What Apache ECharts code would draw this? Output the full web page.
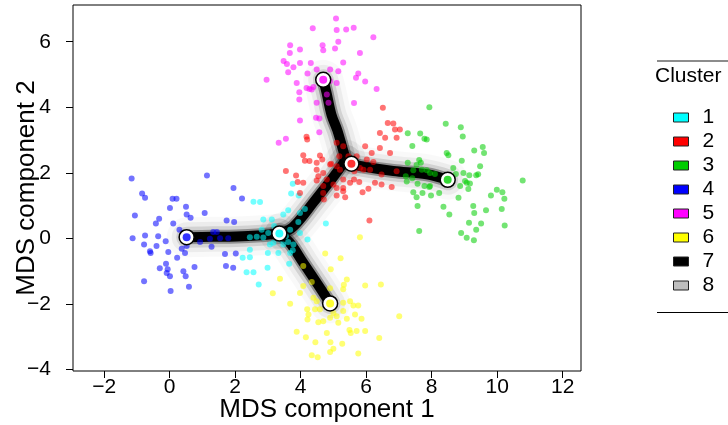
<!DOCTYPE html>
<html><head><meta charset="utf-8">
<script src="https://cdn.jsdelivr.net/npm/echarts@6/dist/echarts.min.js"></script>
<style>html,body{margin:0;padding:0;background:#fff}#c{width:728px;height:425px}</style>
</head><body><div id="c"></div>
<script>
// ---------- data ----------
const xTicks = [-2, 0, 2, 4, 6, 8, 10, 12];
const yTicks = [-4, -2, 0, 2, 4, 6];
const legendNames = ['1', '2', '3', '4', '5', '6', '7', '8'];
const clusterColors = ['#00FFFF', '#FF0000', '#00CD00', '#0000FF', '#FF00FF', '#FFFF00', '#000000', '#BEBEBE'];

const cluster1 = [[3.76,1.67],[3.71,1.37],[3.94,1.31],[2.56,1.12],[2.76,1.11],[2.86,0.58],[3.12,0.58],[3.19,0.38],[3.62,0.86],[3.47,0.73],[3.98,0.78],[4.13,0.90],[3.93,0.50],[3.68,0.27],[2.81,0.27],[3.01,0.17],[3.06,-0.18],[3.17,-0.13],[2.45,0.04],[2.66,0.05],[2.86,0.03],[3.47,-0.18],[3.62,-0.11],[3.78,-0.18],[3.76,-0.36],[2.45,-0.34],[2.45,-0.57],[2.23,-0.59],[3.00,-0.44],[2.99,-0.89],[3.65,-0.77],[4.21,-0.03],[4.77,0.46],[2.35,-1.03],[2.56,-1.03],[2.72,-1.40],[3.37,-0.03],[3.55,0.07],[3.32,-0.44],[3.68,-0.44],[3.98,0.17]];
const cluster2 = [[6.51,3.99],[6.66,3.52],[6.83,3.51],[6.88,3.32],[7.03,3.32],[6.42,3.22],[6.58,3.07],[6.93,3.07],[4.18,3.10],[4.20,3.02],[5.97,2.81],[6.42,2.76],[6.73,2.61],[6.17,2.61],[4.08,2.54],[4.13,2.37],[4.27,2.36],[4.59,2.53],[4.66,2.41],[5.10,2.92],[5.30,2.81],[5.46,2.51],[4.93,2.28],[5.10,2.20],[5.20,2.10],[5.41,2.31],[5.71,2.51],[6.02,2.41],[6.22,2.33],[5.81,2.15],[5.92,2.10],[6.12,2.10],[6.47,1.95],[6.93,2.05],[6.27,1.70],[6.47,1.65],[6.78,1.57],[6.07,1.52],[5.89,1.41],[5.63,1.80],[5.79,1.72],[5.30,1.80],[5.51,1.70],[4.49,2.10],[4.54,1.90],[4.69,2.00],[4.80,1.80],[3.55,2.06],[3.86,1.92],[3.91,1.72],[4.49,1.77],[4.08,1.70],[4.69,1.60],[5.00,1.65],[4.69,1.39],[5.10,1.54],[5.30,1.54],[5.30,1.44],[5.36,1.26],[5.10,1.31],[4.71,1.19],[6.10,0.55],[4.90,2.26],[3.98,1.39],[4.49,2.31],[5.18,2.51],[5.64,2.05]];
const cluster3 = [[7.93,4.00],[8.43,3.50],[8.89,3.39],[8.95,3.11],[7.27,3.21],[7.65,3.20],[7.78,3.04],[7.85,3.02],[7.41,2.82],[8.46,2.61],[8.51,2.54],[9.30,2.68],[9.56,2.79],[9.60,2.61],[8.92,2.37],[9.48,2.20],[7.62,2.39],[7.67,2.31],[7.54,2.24],[7.27,2.31],[7.70,2.10],[7.44,2.08],[7.85,2.08],[7.95,2.00],[8.10,1.97],[7.21,1.90],[7.41,1.84],[7.24,1.74],[7.57,1.67],[7.78,1.60],[7.93,1.57],[8.66,2.15],[8.74,1.97],[8.97,2.00],[9.15,1.93],[9.36,1.93],[9.42,1.96],[9.02,1.75],[9.07,1.70],[9.17,1.68],[9.12,1.51],[8.87,1.60],[7.44,1.41],[7.72,1.39],[7.98,1.31],[8.23,1.39],[7.54,1.26],[8.82,1.24],[8.36,0.97],[8.54,0.73],[7.57,0.99],[9.27,0.99],[9.30,0.78],[9.14,0.48],[9.51,0.46],[9.36,0.27],[8.90,0.17],[9.07,0.02],[9.29,-0.05],[7.62,0.23],[9.66,0.86],[9.81,1.31],[9.99,1.49],[10.16,1.41],[10.22,1.21],[10.14,0.90],[10.23,0.40],[10.78,1.77],[8.46,1.70],[8.61,1.80],[7.95,1.60]];
const cluster4 = [[-1.16,1.83],[1.14,1.92],[-0.84,1.37],[-0.75,1.24],[1.95,1.54],[2.21,1.22],[0.09,1.21],[0.21,1.21],[0.01,0.93],[-1.06,0.70],[0.50,0.97],[0.52,0.73],[0.64,0.63],[1.07,0.78],[-0.32,0.60],[-0.42,0.46],[0.11,0.46],[0.30,0.27],[1.74,0.55],[1.97,0.50],[-1.13,0.01],[-0.75,0.09],[-0.35,0.07],[-0.78,-0.18],[-0.12,-0.08],[-0.60,-0.39],[-0.40,-0.23],[-0.58,-0.44],[-0.04,-0.41],[0.37,-0.31],[0.52,-0.23],[0.23,-0.59],[0.47,-0.44],[1.33,0.20],[1.44,0.20],[1.28,-0.25],[1.69,-0.47],[2.02,-0.46],[-0.11,-0.77],[-0.30,-0.91],[-0.06,-0.94],[-0.09,-1.05],[0.01,-1.15],[0.76,-0.87],[1.72,-0.84],[1.94,-0.89],[0.42,-1.00],[0.49,-1.15],[-0.78,-1.30],[0.03,-1.60],[0.59,-1.47],[1.23,-0.01],[0.93,-0.11],[1.54,0.01],[1.79,0.01],[0.42,0.17]];
const cluster5 = [[5.08,6.71],[4.37,6.41],[5.10,6.36],[5.39,6.37],[5.62,6.43],[6.22,6.14],[5.15,6.00],[3.68,5.89],[3.98,5.76],[3.67,5.66],[4.67,5.89],[4.69,5.74],[5.05,5.79],[5.81,5.66],[3.48,5.41],[3.58,5.32],[3.78,5.22],[3.98,5.35],[3.62,5.07],[4.31,5.35],[4.49,5.15],[4.21,5.03],[4.90,5.15],[5.15,5.10],[5.30,5.37],[5.76,5.03],[5.69,4.90],[2.96,4.84],[3.88,4.74],[4.27,4.56],[4.34,4.54],[3.96,4.46],[4.18,4.59],[4.90,4.80],[5.10,4.74],[5.97,4.79],[6.32,4.56],[3.96,4.24],[4.49,4.14],[4.80,4.39],[4.85,4.14],[5.63,4.13],[4.47,3.68],[4.57,3.66],[3.98,3.60],[4.57,3.24],[3.55,3.04],[3.33,2.92],[4.39,4.62]];
const cluster6 = [[5.81,0.04],[4.75,-0.46],[5.22,-0.60],[4.92,-0.94],[3.37,-1.23],[3.15,-1.67],[5.41,-1.25],[5.32,-1.41],[5.30,-1.55],[5.97,-1.43],[6.45,-1.40],[4.90,-1.52],[3.68,-1.99],[4.39,-1.81],[4.49,-1.91],[4.44,-2.16],[4.59,-2.16],[5.30,-1.96],[5.51,-1.91],[5.61,-2.04],[5.76,-2.04],[5.66,-2.32],[5.86,-2.45],[5.41,-2.45],[5.00,-2.27],[5.10,-2.37],[5.30,-2.21],[4.20,-2.16],[4.24,-2.32],[4.21,-2.47],[4.54,-2.55],[4.69,-2.52],[5.15,-2.57],[4.90,-2.42],[7.01,-2.37],[3.88,-2.84],[4.16,-3.01],[4.45,-3.16],[4.91,-3.16],[5.00,-3.36],[4.90,-3.46],[5.27,-3.21],[5.49,-2.79],[5.53,-2.88],[5.71,-2.82],[5.97,-2.82],[6.40,-3.03],[4.34,-3.56],[4.52,-3.62],[5.76,-3.51],[4.80,-2.88],[3.98,-1.66],[4.08,-1.45],[4.08,-0.84],[4.34,-1.33]];

// cluster centres (1..6)
const centers = [[3.35,0.15],[5.55,2.28],[8.49,1.79],[0.52,0.04],[4.69,4.84],[4.90,-1.98]];

// lineage curve segments
const seg4to1 = [[0.52,0.04],[1.3,0.05],[2.04,0.06],[2.8,0.10],[3.35,0.15]];
const seg1to2 = [[3.35,0.15],[3.70,0.30],[3.98,0.58],[4.38,1.09],[4.94,1.80],[5.38,2.40]];
const seg2to3 = [[5.38,2.40],[5.55,2.28],[5.81,2.21],[6.83,2.06],[7.85,1.96],[8.49,1.79]];
const seg2to5 = [[5.38,2.40],[5.28,2.75],[5.12,3.30],[4.94,3.78],[4.79,4.45],[4.69,4.84]];
const seg1to6 = [[3.35,0.15],[3.67,-0.13],[4.08,-0.74],[4.49,-1.35],[4.90,-1.98]];

// ---------- chart ----------
const FONT = '"Liberation Sans", Arial, Helvetica, sans-serif';
const fmt = v => String(v).replace('-', '\u2212');
const clusters = [cluster1, cluster2, cluster3, cluster4, cluster5, cluster6];
const segments = [seg4to1, seg1to2, seg2to3, seg2to5, seg1to6];
const series = [];

const haloLayers = [{w: 40, o: 0.025}, {w: 30, o: 0.05}, {w: 21, o: 0.11}, {w: 14, o: 0.32}];
haloLayers.forEach(L => segments.forEach(seg => series.push({
  type: 'line', name: '8', data: seg, symbol: 'none', smooth: 0.35, silent: true, z: 1,
  lineStyle: {color: '#000', width: L.w, opacity: L.o, cap: 'round', join: 'round'},
  itemStyle: {color: '#BEBEBE'}
})));
segments.forEach(seg => series.push({
  type: 'line', name: '7', data: seg, symbol: 'none', smooth: 0.35, silent: true, z: 2,
  lineStyle: {color: '#000', width: 10, cap: 'round', join: 'round'},
  itemStyle: {color: '#000'}
}));
clusters.forEach((pts, i) => series.push({
  type: 'scatter', name: legendNames[i], data: pts, symbolSize: 6, z: 3, silent: true,
  itemStyle: {color: clusterColors[i], opacity: 0.55}
}));
series.push({
  type: 'scatter', name: 'centre', data: centers, symbolSize: 15, z: 4, silent: true,
  itemStyle: {color: '#fff', borderColor: '#000', borderWidth: 1.5, opacity: 1}
});
series.push({
  type: 'scatter', name: 'centreDot', z: 5, silent: true, symbolSize: 8,
  data: centers.map((c, i) => ({value: c, itemStyle: {color: clusterColors[i]}}))
});

const option = {
  animation: false,
  backgroundColor: '#fff',
  textStyle: {fontFamily: FONT},
  title: {text: 'Cluster', left: 655, top: 66, padding: 0,
    textStyle: {fontFamily: FONT, fontSize: 21, fontWeight: 'normal', color: '#000'}},
  legend: {
    orient: 'vertical', left: 673, top: 107, padding: 0,
    itemWidth: 15, itemHeight: 9, itemGap: 3, selectedMode: false,
    textStyle: {fontFamily: FONT, fontSize: 21, color: '#000', lineHeight: 21, padding: [0, 0, 0, 9]},
    data: legendNames.map((n, i) => ({
      name: n, icon: 'rect',
      itemStyle: {color: clusterColors[i], borderColor: '#222', borderWidth: 1, opacity: 1}
    }))
  },
  grid: {left: 73, right: 147, top: 5, bottom: 54, show: true, borderColor: '#000', borderWidth: 1,
    containLabel: false, outerBoundsMode: 'none'},
  xAxis: {
    type: 'value', min: -2.95, max: 12.56,
    name: 'MDS component 1', nameLocation: 'middle', nameGap: 26, nameMoveOverlap: false,
    nameTextStyle: {fontFamily: FONT, fontSize: 26, color: '#000'},
    axisLine: {show: false, onZero: false},
    splitLine: {show: false},
    axisTick: {show: true, length: 7, customValues: xTicks, lineStyle: {color: '#000', width: 1}},
    axisLabel: {customValues: xTicks, formatter: fmt, fontFamily: FONT, fontSize: 21, color: '#000', margin: 6}
  },
  yAxis: {
    type: 'value', min: -4.04, max: 7.12,
    name: 'MDS component 2', nameLocation: 'middle', nameGap: 33, nameRotate: 90, nameMoveOverlap: false,
    nameTextStyle: {fontFamily: FONT, fontSize: 26, color: '#000'},
    axisLine: {show: false, onZero: false},
    splitLine: {show: false},
    axisTick: {show: true, length: 7, customValues: yTicks, lineStyle: {color: '#000', width: 1}},
    axisLabel: {customValues: yTicks, formatter: fmt, fontFamily: FONT, fontSize: 21, color: '#000', margin: 22}
  },
  graphic: [
    {type: 'line', shape: {x1: 657, y1: 61, x2: 728, y2: 61}, style: {stroke: '#8c8c8c', lineWidth: 2}},
    {type: 'line', shape: {x1: 657, y1: 312.5, x2: 728, y2: 312.5}, style: {stroke: '#000', lineWidth: 1}}
  ],
  series: series
};
const chart = echarts.init(document.getElementById('c'), null, {renderer: 'canvas'});
chart.setOption(option);
</script>
</body></html>
